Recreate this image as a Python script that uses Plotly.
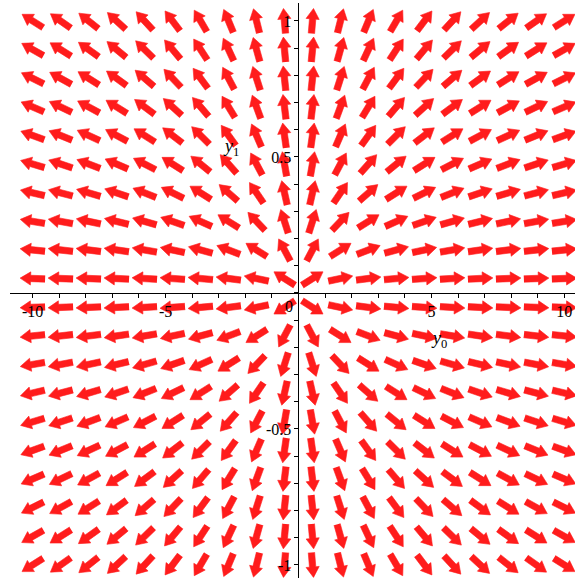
import numpy as np
import plotly.graph_objects as go

# ---- data: direction field grid and system  y0' = y0, y1' = y1 ----
y0_values = [-10.0, -8.947, -7.895, -6.842, -5.789, -4.737, -3.684, -2.632, -1.579, -0.526,
             0.526, 1.579, 2.632, 3.684, 4.737, 5.789, 6.842, 7.895, 8.947, 10.0]
y1_values = [-1.0, -0.895, -0.789, -0.684, -0.579, -0.474, -0.368, -0.263, -0.158, -0.053,
             0.053, 0.158, 0.263, 0.368, 0.474, 0.579, 0.684, 0.789, 0.895, 1.0]

x_tick_vals = [-10, -5, 5, 10]
x_tick_text = ["-10", "-5", "5", "10"]
y_tick_vals = [-1, -0.5, 0.5, 1]
y_tick_text = ["-1", "-0.5", "0.5", "1"]


def rhs(y0, y1):
    return y0, y1


# ---- layout geometry ----
W, H = 579, 581
ML, MR, MT, MB = 10, 4, 3, 3
XR = [-10.85, 10.4]
YR = [-1.048, 1.066]
pw, ph = W - ML - MR, H - MT - MB
px_x = pw / (XR[1] - XR[0])
px_y = ph / (YR[1] - YR[0])

K = 6.3        # screen weighting of the y1 component
L, HL, HW, SW = 25.0, 10.5, 6.6, 3.2
shape = np.array([(-L / 2, -SW), (L / 2 - HL, -SW), (L / 2 - HL, -HW), (L / 2, 0),
                  (L / 2 - HL, HW), (L / 2 - HL, SW), (-L / 2, SW)])

xs, ys = [], []
for b in y1_values:
    for a in y0_values:
        u, v = rhs(a, b)
        ang = np.arctan2(K * v, u)
        c, s = np.cos(ang), np.sin(ang)
        for t, n in shape:
            xs.append(a + (t * c - n * s) / px_x)
            ys.append(b + (t * s + n * c) / px_y)
        xs.append(None)
        ys.append(None)

fig = go.Figure()
fig.add_trace(go.Scatter(x=xs, y=ys, mode="lines", fill="toself",
                         fillcolor="#ff1c1c", line=dict(color="#ff1c1c", width=0.6),
                         hoverinfo="skip", showlegend=False))

font = dict(family="Liberation Serif", size=16, color="black")
xpos = (0 - YR[0]) / (YR[1] - YR[0])
ypos = (0 - XR[0]) / (XR[1] - XR[0])

fig.update_layout(
    width=W, height=H, autosize=False,
    margin=dict(l=ML, r=MR, t=MT, b=MB, pad=0),
    paper_bgcolor="white", plot_bgcolor="white",
    font=font,
    xaxis=dict(range=XR, anchor="free", position=xpos, showgrid=False, zeroline=False,
               showline=True, linecolor="black", linewidth=1,
               ticks="outside", ticklen=4, tickcolor="black", tickwidth=1,
               tickvals=x_tick_vals, ticktext=x_tick_text, tickfont=font,
               minor=dict(dtick=1, tick0=0, ticks="outside", ticklen=4, tickcolor="black", tickwidth=1)),
    yaxis=dict(range=YR, anchor="free", position=ypos, showgrid=False, zeroline=False,
               showline=True, linecolor="black", linewidth=1,
               ticks="outside", ticklen=4, tickcolor="black", tickwidth=1,
               tickvals=y_tick_vals, ticktext=y_tick_text, tickfont=font,
               minor=dict(dtick=0.1, tick0=0, ticks="outside", ticklen=4, tickcolor="black", tickwidth=1)),
    annotations=[
        dict(x=0, y=0, xref="x", yref="y", text="0", showarrow=False, font=font,
             xshift=-9, yshift=-14),
        dict(x=5.3, y=-0.17, xref="x", yref="y", text="<i>y</i><sub>0</sub>", showarrow=False,
             font=dict(family="Liberation Serif", size=18, color="black")),
        dict(x=-2.55, y=0.535, xref="x", yref="y", text="<i>y</i><sub>1</sub>", showarrow=False,
             font=dict(family="Liberation Serif", size=18, color="black")),
    ],
)

fig.write_html("out.html", config={"displayModeBar": False},
               post_script="document.body.style.margin='0';document.body.style.padding='0';")
